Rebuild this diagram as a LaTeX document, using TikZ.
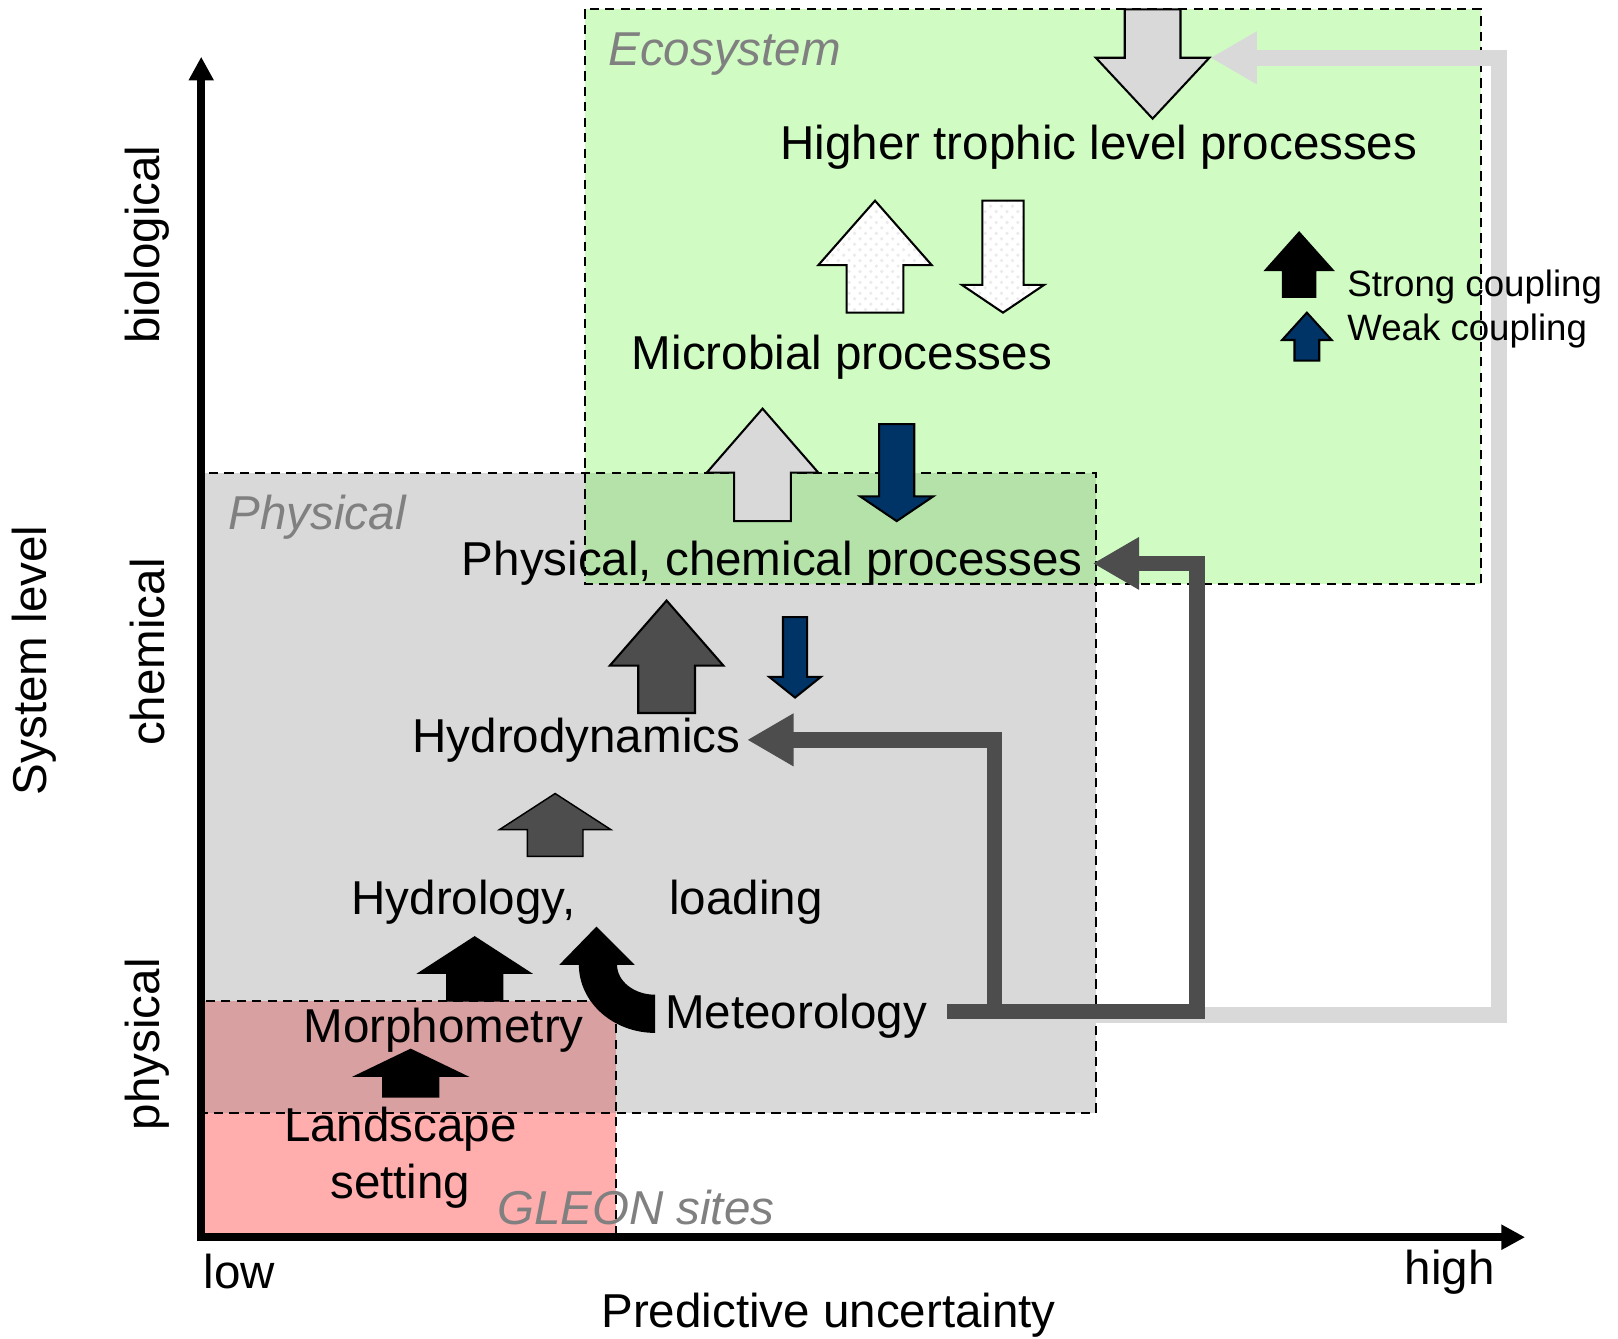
\documentclass[tikz,border=0pt]{standalone}
\usepackage{fontspec}
\setmainfont{Liberation Sans}
\usetikzlibrary{arrows.meta,patterns}

\definecolor{ecogreen}{RGB}{208,252,196}
\definecolor{physgray}{RGB}{217,217,217}
\definecolor{gleonpink}{RGB}{255,173,173}
\definecolor{overgreen}{RGB}{181,226,168}
\definecolor{overpink}{RGB}{216,160,160}
\definecolor{darkfb}{RGB}{77,77,77}
\definecolor{arrnavy}{RGB}{0,51,102}
\definecolor{labgray}{RGB}{128,128,128}

\tikzset{
  lbl/.style={inner sep=0pt, font=\fontsize{13.1pt}{15.6pt}\selectfont},
  leglbl/.style={inner sep=0pt, font=\fontsize{10.1pt}{12pt}\selectfont},
  boxlbl/.style={inner sep=0pt, text=labgray, font=\fontsize{13.1pt}{15.6pt}\selectfont\itshape},
  region/.style={draw=black, line width=0.02cm, dash pattern=on 0.09cm off 0.06cm},
  axis/.style={line width=0.08cm, -{Triangle[length=0.23cm,width=0.23cm]}},
  fbstrong/.style={draw=darkfb, line width=0.15cm, line join=miter, -{Triangle[length=0.45cm,width=0.48cm]}},
  fbweak/.style={draw=physgray, line width=0.155cm, line join=miter, -{Triangle[length=0.45cm,width=0.48cm]}},
  grayarr/.style={draw=black, line width=0.02cm, fill=physgray},
  patarr/.style={draw=black, line width=0.02cm, preaction={fill=white}, pattern=crosshatch dots, pattern color=black!8},
  navyarr/.style={draw=black, line width=0.02cm, fill=arrnavy},
  darkarr/.style={draw=black, line width=0.02cm, fill=darkfb},
  darkflat/.style={fill=darkfb},
  blackarr/.style={fill=black}
}

% block arrow: style, centre x, shaft end y, head base y, tip y, head half width, shaft half width
\newcommand{\blockarrow}[7]{%
  \draw[#1] ({#2-#7},#3) -- ({#2-#7},#4) -- ({#2-#6},#4) -- (#2,#5)
    -- ({#2+#6},#4) -- ({#2+#7},#4) -- ({#2+#7},#3) -- cycle;}

\begin{document}
\begin{tikzpicture}[x=0.01cm, y=-0.01cm]
    \useasboundingbox (0,0) rectangle (1568,1297);

    % regions
    \fill[ecogreen] (567,9) rectangle (1435,566);
    \fill[physgray] (198,458) rectangle (1062,1079);
    \fill[gleonpink] (198,970) rectangle (597,1199);
    \fill[overgreen] (567,458) rectangle (1062,566);
    \fill[overpink] (198,970) rectangle (597,1079);
    \draw[region] (567,9) rectangle (1435,566);
    \draw[region] (198,458) rectangle (1062,1079);
    \draw[region] (198,970) rectangle (597,1199);

    % axes
    \draw[axis] (195,1203) -- (195,55);
    \draw[axis] (191,1199) -- (1478,1199);

    % text
    \node[lbl] (hitroph) at (1065,143) {Higher trophic level processes};
    \node[lbl] (micro) at (816,346) {Microbial processes};
    \node[lbl, anchor=east, inner xsep=0.09cm] (phys) at (1059,546) {Physical, chemical processes};
    \node[lbl, anchor=east, inner xsep=0.06cm] (hyd) at (724,717) {Hydrodynamics};
    \node[lbl, anchor=west] (hydro) at (340,874) {Hydrology,};
    \node[lbl, anchor=west] (load) at (648,874) {loading};
    \node[lbl] (morph) at (430,998) {Morphometry};
    \node[lbl, align=center] (land) at (388,1122) {Landscape\\setting};
    \node[lbl, anchor=west] (met) at (644,985) {Meteorology};

    \node[boxlbl, anchor=west] (ecolbl) at (589,52) {Ecosystem};
    \node[boxlbl, anchor=west] (physlbl) at (221,501) {Physical};
    \node[boxlbl, anchor=west] (gleonlbl) at (481,1170) {GLEON sites};

    \node[lbl] (low) at (232,1232) {low};
    \node[lbl] (high) at (1405,1233) {high};
    \node[lbl] (xlbl) at (803,1275) {Predictive uncertainty};
    \node[lbl, rotate=90] (ylbl) at (33,640) {System level};
    \node[lbl, rotate=90] (biol) at (143,237) {biological};
    \node[lbl, rotate=90] (chem) at (143,632) {chemical};
    \node[lbl, rotate=90] (physc) at (143,1012) {physical};

    % feedback from meteorology
    \coordinate (metout) at (918,980);
    \coordinate (topin) at (1173,56);
    \draw[fbweak] ([yshift=-0.04cm]metout) -| (1453,56) -- (topin);
    \draw[fbstrong] (metout) -| (964,0 |- hyd.east) -- (hyd.east);
    \draw[fbstrong] (metout) -| (1160,0 |- phys.east) -- (phys.east);

    % coupling arrows
    \blockarrow{grayarr}{1117}{9}{56}{115}{55}{27}
    \blockarrow{patarr}{848}{303}{257}{194.5}{55}{27.5}
    \blockarrow{patarr}{972}{194.5}{276}{303}{40}{20}
    \blockarrow{grayarr}{739}{505}{458}{396}{54}{27.5}
    \blockarrow{navyarr}{869}{411}{481}{505}{35.5}{17}
    \blockarrow{darkarr}{646}{691}{645}{582}{55}{27.5}
    \blockarrow{navyarr}{770.5}{598}{656}{676}{25}{11.7}
    \blockarrow{darkflat}{538}{830}{804}{769}{54}{27}
    \blockarrow{blackarr}{460}{970}{943}{908}{54}{27}
    \blockarrow{blackarr}{398}{1063}{1043}{1017}{54}{27}
    \blockarrow{blackarr}{1259}{288}{262}{225}{33}{16}
    \blockarrow{navyarr}{1266.5}{349.5}{329.5}{303}{24}{12}

    % curved arrow from meteorology
    \fill[black] (542,935) -- (578,898) -- (615,935) -- (598,935)
        .. controls (598,951) and (614.6,964) .. (635,964) -- (635,1001)
        .. controls (594.2,1001) and (561,971.4) .. (561,935) -- cycle;

    % legend
    \node[leglbl, anchor=west] (strong) at (1305,278) {Strong coupling};
    \node[leglbl, anchor=west] (weak) at (1305,321) {Weak coupling};
\end{tikzpicture}
\end{document}
